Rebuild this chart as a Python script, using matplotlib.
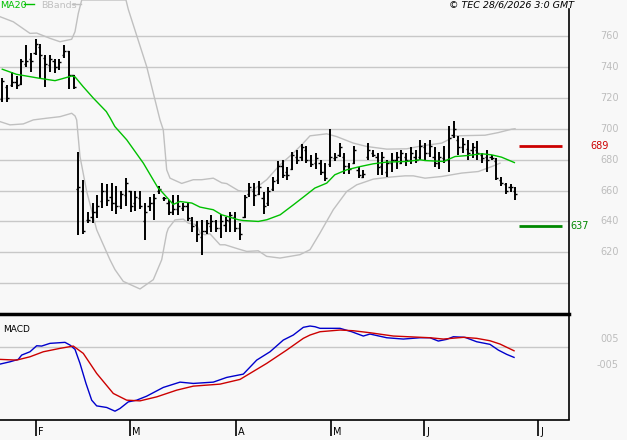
import numpy as np
import matplotlib
matplotlib.use("Agg")
import matplotlib.pyplot as plt

# daily bars (index = trading day, 0 = mid January)
high = [733, 728, 737, 734, 745, 754, 749, 758, 755, 748, 748, 745, 745, 754, 750, 735,
        685, 667, 646, 652, 657, 665, 664, 665, 663, 660, 668, 660, 660, 660, 652, 656,
        658, 663, 656, 654, 657, 657, 652, 652, 643, 640, 641, 641, 644, 641, 645, 643,
        646, 646, 639, 657, 665, 665, 666, 659, 662, 669, 679, 680, 675, 685, 686, 690,
        689, 683, 684, 680, 678, 700, 684, 691, 684, 678, 689, 675, 673, 691, 686, 684,
        685, 680, 684, 685, 686, 684, 688, 686, 693, 691, 693, 688, 685, 689, 702, 705,
        695, 694, 693, 691, 692, 684, 686, 683, 681, 669, 665, 664, 662]
low = [717, 717, 727, 726, 728, 740, 737, 748, 733, 727, 737, 736, 738, 746, 726, 726,
       631, 632, 639, 639, 642, 649, 650, 647, 645, 648, 650, 646, 647, 648, 628, 647,
       641, 658, 653, 644, 644, 644, 647, 640, 633, 627, 618, 632, 633, 633, 629, 633,
       633, 633, 628, 642, 656, 650, 657, 645, 650, 660, 664, 668, 667, 673, 677, 679,
       678, 675, 674, 670, 666, 675, 679, 682, 671, 671, 677, 668, 668, 680, 682, 670,
       670, 669, 672, 674, 677, 676, 677, 678, 680, 679, 682, 675, 674, 678, 672, 694,
       683, 684, 680, 681, 680, 678, 672, 680, 667, 663, 658, 659, 654]
open_ = [719, 727, 728, 730, 729, 742, 745, 749, 753, 746, 741, 744, 740, 748, 750, 735,
         661, 660, 641, 643, 646, 653, 660, 656, 652, 650, 657, 660, 652, 655, 640, 650,
         652, 660, 655, 652, 646, 648, 649, 650, 641, 638, 630, 634, 637, 640, 636, 638,
         640, 643, 636, 643, 658, 660, 658, 655, 652, 661, 667, 676, 672, 674, 682, 682,
         686, 680, 678, 678, 672, 677, 681, 683, 682, 676, 678, 673, 669, 682, 684, 682,
         676, 672, 678, 680, 678, 682, 680, 682, 682, 688, 684, 682, 678, 681, 680, 696,
         693, 688, 687, 686, 686, 683, 682, 682, 679, 667, 664, 662, 660]
close = [731, 720, 730, 728, 744, 744, 744, 755, 748, 742, 745, 740, 743, 750, 735, 727,
         662, 634, 641, 646, 650, 660, 654, 652, 650, 658, 665, 650, 656, 650, 646, 652,
         655, 661, 655, 646, 648, 650, 650, 642, 637, 632, 634, 639, 640, 636, 640, 641,
         644, 636, 632, 656, 662, 657, 662, 650, 660, 666, 676, 670, 670, 683, 680, 688,
         680, 677, 681, 672, 668, 682, 682, 688, 676, 674, 686, 670, 671, 686, 683, 675,
         682, 678, 680, 682, 684, 680, 684, 680, 689, 684, 689, 678, 682, 680, 694, 700,
         688, 690, 684, 688, 684, 681, 680, 681, 668, 665, 660, 662, 658]

# MA20 and Bollinger bands (day index, value)
ma_x = [0, 3.0, 7.9, 11.1, 12.2, 14.6, 15.3, 17.0, 19.2, 21.9, 22.7, 23.7, 26.2, 29.7,
        32.8, 33.2, 36.0, 37.4, 39.9, 41.6, 43.7, 44.4, 46.2, 49.7, 50.7, 53.9, 55.7,
        58.5, 61.3, 63.4, 65.8, 68.3, 70.0, 72.5, 75.3, 78.1, 80.9, 85.1, 88.0, 89.0,
        92.9, 95.3, 98.1, 100.9, 103.0, 105.1, 107.8]
ma_v = [738.5, 735.2, 732.6, 731.1, 732.0, 734.1, 733.6, 727.3, 719.7, 711.1, 707.0,
        701.4, 692.8, 677.7, 661.6, 660.5, 651.0, 652.9, 651.9, 649.3, 648.0, 647.6,
        644.3, 641.1, 640.6, 640.0, 641.1, 644.3, 650.8, 655.8, 661.6, 664.8, 670.2,
        673.4, 675.5, 677.3, 678.4, 678.8, 679.9, 679.4, 678.8, 682.0, 682.7, 683.8,
        683.1, 681.6, 678.1]
ub_x = [-0.48, 2.32, 5.83, 7.24, 10.04, 12.15, 14.61, 15.31, 16.0, 16.72, 26.04, 26.53,
        30.4, 33.2, 33.89, 34.61, 35.31, 37.77, 40.21, 41.98, 44.42, 46.19, 47.24, 49.68,
        50.74, 52.84, 55.66, 58.46, 61.26, 63.37, 64.78, 68.29, 70.4, 73.89, 76.72,
        80.93, 85.14, 88.29, 92.51, 93.89, 95.31, 101.62, 104.42, 107.24, 107.94]
ub_v = [772.5, 769.2, 761.7, 761.9, 758.5, 756.3, 757.9, 762.8, 774.6, 783.3, 783.3,
        777.2, 740.2, 705.7, 699.3, 673.4, 668.0, 664.6, 667.0, 667.0, 668.0, 665.0,
        664.5, 660.0, 659.4, 660.5, 667.0, 676.6, 684.2, 690.7, 695.4, 696.7, 694.9,
        690.7, 688.5, 686.8, 687.0, 688.9, 690.7, 692.8, 695.4, 695.8, 697.5, 699.7, 700.0]
lb_x = [-0.48, 1.62, 4.42, 6.53, 9.35, 12.15, 14.61, 15.31, 15.66, 16.36, 17.77, 19.87,
        22.67, 23.73, 25.47, 28.99, 31.79, 33.56, 34.61, 34.95, 36.36, 38.11, 39.16,
        40.93, 41.62, 42.67, 43.73, 45.83, 46.88, 49.68, 51.45, 53.89, 55.66, 58.46,
        62.67, 64.78, 66.88, 69.68, 72.51, 74.61, 78.11, 81.62, 84.78, 86.53, 89.0,
        92.51, 96.72, 100.21, 103.03, 104.78]
lb_v = [704.6, 702.5, 703.1, 705.7, 706.8, 707.8, 710.0, 708.3, 705.7, 682.0, 659.4,
        634.6, 615.2, 608.8, 601.2, 596.3, 602.3, 615.2, 632.5, 635.5, 641.0, 641.5,
        638.9, 637.9, 632.5, 631.4, 632.0, 624.9, 624.9, 622.2, 620.6, 621.0, 617.4,
        616.3, 618.5, 621.7, 632.5, 647.6, 659.4, 663.7, 667.4, 668.7, 669.5, 669.5,
        668.0, 669.1, 671.3, 672.3, 675.5, 677.7]

# MACD and signal line
macd_x = [-0.48, 1.62, 3.37, 4.08, 5.83, 7.24, 8.29, 10.04, 13.2, 14.25, 15.31, 16.36,
          17.62, 18.82, 19.87, 21.98, 23.73, 24.78, 26.53, 28.29, 30.4, 33.89, 37.41,
          40.21, 44.42, 47.24, 50.74, 53.56, 56.36, 59.16, 61.26, 63.37, 64.78, 65.83,
          66.88, 68.99, 71.09, 73.56, 76.0, 77.41, 80.93, 84.42, 87.94, 90.04, 91.79,
          93.56, 94.95, 97.41, 99.87, 102.67, 104.42, 106.19, 107.73]
macd_v = [-1.67, -1.44, -1.2, -0.77, -0.44, 0.16, 0.13, 0.4, 0.5, 0.23, -0.2, -1.6,
          -3.6, -5.27, -5.84, -6.0, -6.37, -6.1, -5.44, -5.27, -4.87, -4.0, -3.47,
          -3.6, -3.47, -3.0, -2.67, -1.27, -0.44, 0.73, 1.23, 2.0, 2.13, 2.06, 1.9,
          1.9, 1.9, 1.56, 1.13, 1.33, 0.96, 0.83, 0.96, 0.96, 0.63, 0.8, 1.06, 1.0,
          0.56, 0.3, -0.27, -0.7, -1.0]
sig_x = [-0.48, 3.03, 5.83, 8.63, 12.15, 14.95, 17.05, 19.87, 23.37, 26.19, 28.99,
         32.51, 36.72, 40.21, 45.83, 50.04, 55.66, 59.87, 63.37, 64.78, 66.88, 71.09,
         73.89, 77.41, 82.32, 90.04, 92.84, 97.05, 99.87, 102.67, 104.78, 107.73]
sig_v = [-1.2, -1.27, -0.94, -0.44, -0.1, 0.13, -0.6, -2.6, -4.6, -5.27, -5.34, -4.94,
         -4.27, -3.87, -3.67, -3.2, -1.6, -0.27, 0.9, 1.23, 1.56, 1.73, 1.66, 1.46,
         1.13, 0.96, 0.83, 1.0, 0.9, 0.66, 0.33, -0.34]

price_ticks = [760, 740, 720, 700, 680, 660, 640, 620]
grid_levels = [600, 620, 640, 660, 680, 700, 720, 740, 760]
resistance = 689
support = 637
month_pos = [7.1, 26.9, 49.2, 69.2, 88.8, 112.8]
month_lbl = ["F", "M", "A", "M", "J", "J"]

bg = "#f8f8f8"
gridc = "#c8c8c8"
labc = "#bdbdbd"
W, H = 627, 440

fig = plt.figure(figsize=(6.27, 4.40), dpi=100, facecolor=bg)
ax = fig.add_axes([0, 1 - 314 / H, 569 / W, 314 / H])
ax2 = fig.add_axes([0, 1 - 419.5 / H, 569 / W, 105.5 / H])
for a in (ax, ax2):
    a.set_facecolor(bg)
    a.set_xlim(-0.48, 119.3)
    a.set_xticks([])
    a.set_yticks([])
ax.set_ylim(580.1, 783.3)
ax2.set_ylim(-7.2, 3.33)

for v in grid_levels:
    ax.axhline(v, color=gridc, lw=1, zorder=1)
ax2.axhline(0, color=gridc, lw=1, zorder=1)

# bollinger + ma
ax.plot(ub_x, ub_v, color="#c0c0c0", lw=1, zorder=2)
ax.plot(lb_x, lb_v, color="#c0c0c0", lw=1, zorder=2)
ax.plot(ma_x, ma_v, color="#00c000", lw=1, zorder=4)

# OHLC bars
idx = np.arange(len(high))
ax.vlines(idx, low, high, color="black", lw=1.4, zorder=3)
ax.hlines(open_, idx - 0.45, idx, color="black", lw=1, zorder=3)
ax.hlines(close, idx, idx + 0.45, color="black", lw=1, zorder=3)

# support / resistance
ax.hlines(resistance, 108.8, 117.8, color="#cc0000", lw=2, zorder=3)
ax.hlines(support, 108.8, 117.8, color="#008800", lw=2, zorder=3)
yt = ax.get_yaxis_transform()
ax.text(609 / 569, resistance, str(resistance), transform=yt, ha="right", va="center",
        color="#cc0000", fontsize=7)
ax.text(570 / 569, support, str(support), transform=yt, ha="left", va="center",
        color="#008800", fontsize=7)
for v in price_ticks:
    ax.text(619 / 569, v, str(v), transform=yt, ha="right", va="center", color=labc,
            fontsize=7)

# spines
for s in ("top", "left", "bottom"):
    ax.spines[s].set_visible(False)
ax.spines["right"].set_bounds(580.1, 777.2)
ax.spines["right"].set_linewidth(1.2)
ax2.spines["left"].set_visible(False)
ax2.spines["top"].set_linewidth(2.5)
ax2.spines["right"].set_linewidth(1.2)
ax2.spines["bottom"].set_linewidth(1.2)

# macd
ax2.plot(macd_x, macd_v, color="#0000cc", lw=1, zorder=3)
ax2.plot(sig_x, sig_v, color="#cc0000", lw=1, zorder=3)
yt2 = ax2.get_yaxis_transform()
ax2.text(619 / 569, 0.83, "005", transform=yt2, ha="right", va="center", color=labc,
         fontsize=7)
ax2.text(619 / 569, -1.77, "-005", transform=yt2, ha="right", va="center", color=labc,
         fontsize=7)
ax2.text(3 / 569, 0.9, "MACD", transform=ax2.transAxes, ha="left", va="top", fontsize=6.5)

# month ticks
ax2.set_xticks(month_pos)
ax2.set_xticklabels([])
ax2.tick_params(axis="x", direction="out", length=11.5, width=1.2, color="black")
xt = ax2.get_xaxis_transform()
for p, m in zip(month_pos, month_lbl):
    ax2.annotate(m, xy=(p, 0), xycoords=xt, xytext=(1.6, -5.5), textcoords="offset points",
                 ha="left", va="top", fontsize=7, annotation_clip=False)

# header
fig.text(449 / W, 1 - 0.5 / H, "\u00a9 TEC 28/6/2026 3:0 GMT", ha="left", va="top",
         style="italic", fontsize=6.8)
fig.text(0, 1 - 0.5 / H, "MA20", ha="left", va="top", color="#00c000", fontsize=6.8)
fig.add_artist(plt.Line2D([24 / W, 34 / W], [1 - 4.5 / H, 1 - 4.5 / H], color="#00c000", lw=1))
fig.text(41 / W, 1 - 0.5 / H, "BBands", ha="left", va="top", color="#c0c0c0", fontsize=6.8)
fig.add_artist(plt.Line2D([72 / W, 81 / W], [1 - 4.5 / H, 1 - 4.5 / H], color="#c0c0c0", lw=1))

fig.savefig("out.png", dpi=100, facecolor=bg)
